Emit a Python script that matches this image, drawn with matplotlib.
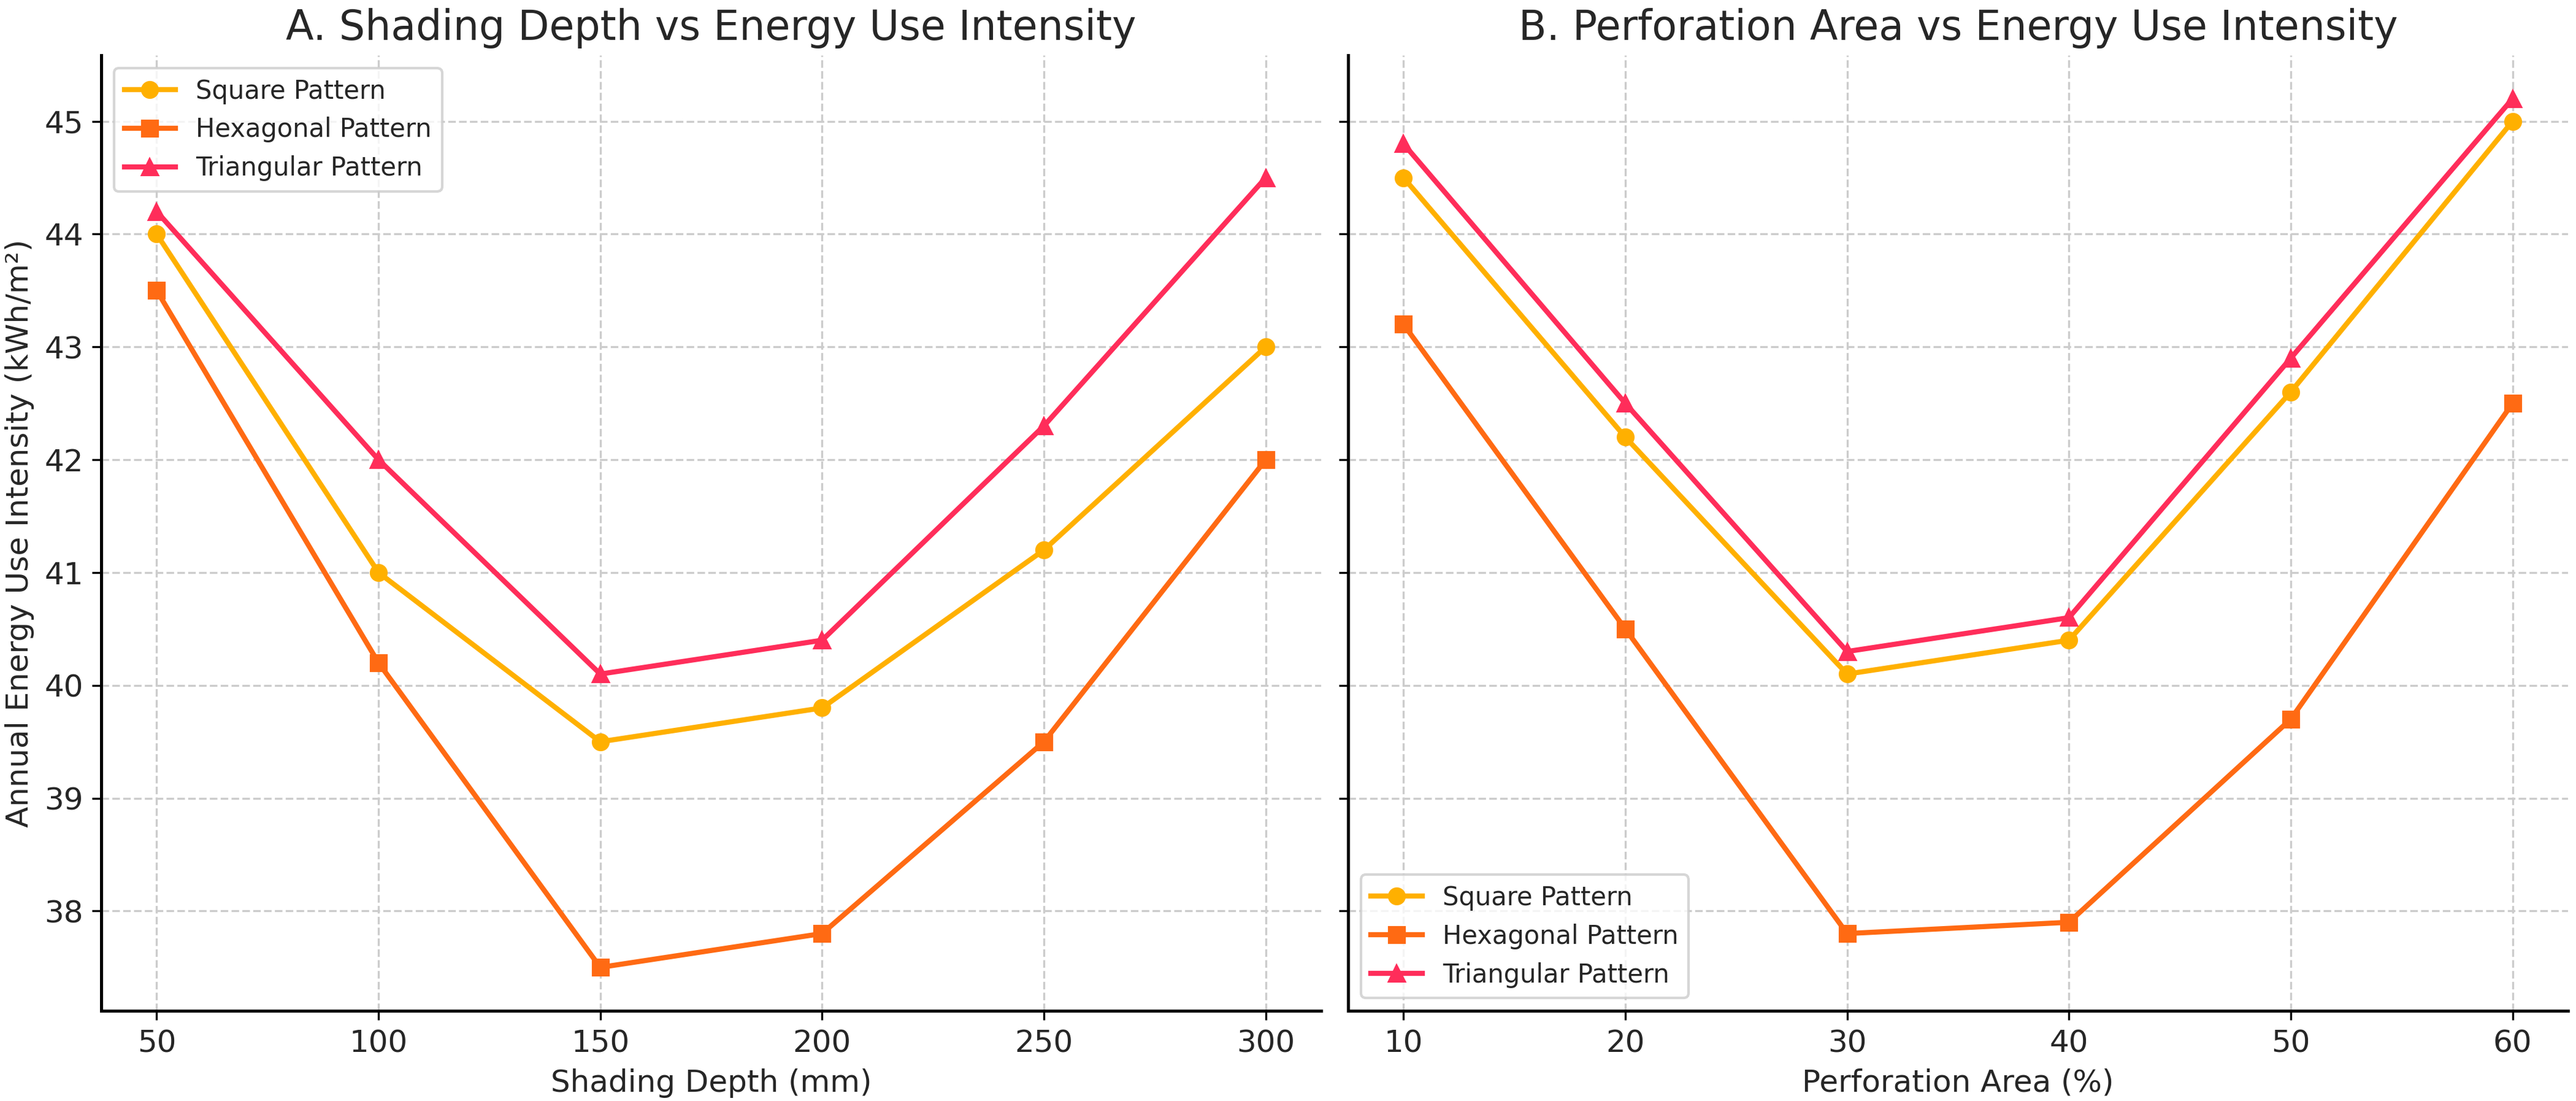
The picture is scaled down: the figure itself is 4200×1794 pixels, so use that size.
import matplotlib
matplotlib.use("Agg")
import matplotlib.pyplot as plt

# Daten
shading_depth = [50, 100, 150, 200, 250, 300]
perforation_area = [10, 20, 30, 40, 50, 60]

square_a = [44.0, 41.0, 39.5, 39.8, 41.2, 43.0]
hexagonal_a = [43.5, 40.2, 37.5, 37.8, 39.5, 42.0]
triangular_a = [44.2, 42.0, 40.1, 40.4, 42.3, 44.5]

square_b = [44.5, 42.2, 40.1, 40.4, 42.6, 45.0]
hexagonal_b = [43.2, 40.5, 37.8, 37.9, 39.7, 42.5]
triangular_b = [44.8, 42.5, 40.3, 40.6, 42.9, 45.2]

labels = ["Square Pattern", "Hexagonal Pattern", "Triangular Pattern"]
colors = ["#FFB000", "#FF6A13", "#FF2D5A"]
markers = ["o", "s", "^"]

text_color = "#262626"
plt.rcParams["font.family"] = "DejaVu Sans"

fig, (ax1, ax2) = plt.subplots(1, 2, figsize=(14.0, 5.98), dpi=300, sharey=True)
fig.subplots_adjust(left=0.0393, right=0.9969, top=0.9498, bottom=0.0819, wspace=0.022)

def draw(ax, x, series, title, xlabel, legend_loc):
    for y, lab, c, m in zip(series, labels, colors, markers):
        ax.plot(x, y, marker=m, color=c, label=lab, linewidth=2, markersize=6)
    ax.set_title(title, fontsize=16, color=text_color)
    ax.set_xlabel(xlabel, fontsize=12, color=text_color)
    ax.set_xticks(x)
    ax.tick_params(labelsize=12, colors="black", labelcolor=text_color)
    ax.grid(True, linestyle="--", color="#cccccc", linewidth=0.8)
    ax.spines["top"].set_visible(False)
    ax.spines["right"].set_visible(False)
    for s in ["left", "bottom"]:
        ax.spines[s].set_linewidth(1.2)
    leg = ax.legend(loc=legend_loc, fontsize=10, labelcolor=text_color)
    leg.get_frame().set_edgecolor("#cccccc")

draw(ax1, shading_depth, [square_a, hexagonal_a, triangular_a],
     "A. Shading Depth vs Energy Use Intensity", "Shading Depth (mm)", "upper left")
draw(ax2, perforation_area, [square_b, hexagonal_b, triangular_b],
     "B. Perforation Area vs Energy Use Intensity", "Perforation Area (%)", "lower left")

ax1.set_ylabel("Annual Energy Use Intensity (kWh/m²)", fontsize=12, color=text_color)

fig.savefig("out.png", dpi=300)
